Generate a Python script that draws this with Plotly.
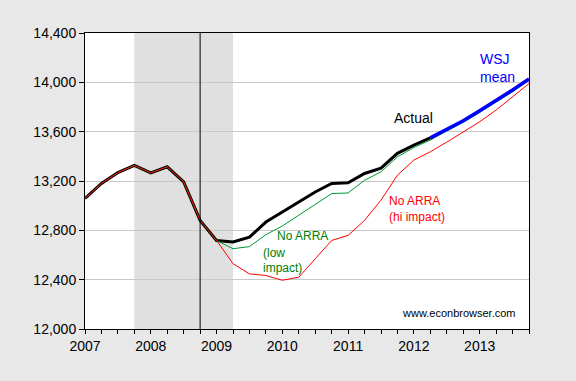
import plotly.graph_objects as go

# Quarterly dates 2007Q1 .. 2013Q4 (as decimal years)
quarters = [2007 + i * 0.25 for i in range(28)]

actual = [13058, 13180, 13268, 13326,
          13266, 13315, 13193, 12881,
          12718, 12705, 12745, 12867,
          12949, 13030, 13111, 13180,
          13185, 13261, 13305, 13424,
          13491, 13550]

wsj_mean = [13550, 13620, 13688, 13769, 13850, 13938, 14027]  # 2012Q2..2013Q4

no_arra_low = [13058, 13180, 13268, 13326,
               13266, 13315, 13193, 12881,
               12718, 12651, 12668, 12765,
               12835, 12924, 13011, 13098,
               13103, 13206, 13274, 13396,
               13472, 13532, 13605, 13675,
               13755, 13836, 13924, 14015]

no_arra_hi = [13058, 13180, 13268, 13326,
              13266, 13315, 13193, 12881,
              12718, 12530, 12447, 12434,
              12395, 12420, 12569, 12718,
              12759, 12881, 13045, 13247,
              13370, 13437, 13515, 13598,
              13680, 13775, 13880, 13990]

recession = (2007.75, 2009.25)
vline_x = 2008.75

y_ticks = [12000, 12400, 12800, 13200, 13600, 14000, 14400]
x_ticks = [2007, 2008, 2009, 2010, 2011, 2012, 2013]

FONT = "Liberation Sans, Arial, sans-serif"

fig = go.Figure()
fig.add_trace(go.Scatter(x=quarters[:len(actual)], y=actual, mode="lines",
                         line=dict(color="black", width=3), name="Actual"))
fig.add_trace(go.Scatter(x=quarters, y=no_arra_low, mode="lines",
                         line=dict(color="#009933", width=1), name="No ARRA (low)"))
fig.add_trace(go.Scatter(x=quarters, y=no_arra_hi, mode="lines",
                         line=dict(color="#FF0000", width=1), name="No ARRA (hi)"))
fig.add_trace(go.Scatter(x=quarters[len(actual) - 1:], y=wsj_mean, mode="lines",
                         line=dict(color="#0000FF", width=3.5), name="WSJ mean"))

fig.add_shape(type="rect", xref="x", yref="paper", x0=recession[0], x1=recession[1],
              y0=0, y1=1, fillcolor="#E0E0E0", line=dict(width=0), layer="below")
fig.add_shape(type="line", xref="x", yref="paper", x0=vline_x, x1=vline_x,
              y0=0, y1=1, line=dict(color="black", width=1))

def ann(text, x, y, color, size):
    fig.add_annotation(text=text, xref="paper", yref="paper", x=x, y=y,
                       xanchor="left", yanchor="middle", align="left",
                       showarrow=False, font=dict(family=FONT, size=size, color=color))

ann("WSJ<br>mean", 0.885, 0.8834, "#0000FF", 14)
ann("Actual", 0.692, 0.7128, "black", 14)
ann("No ARRA", 0.428, 0.3142, "#008000", 12)
ann("(low", 0.397, 0.2584, "#008000", 12)
ann("impact)", 0.397, 0.2061, "#008000", 12)
ann("No ARRA", 0.680, 0.4324, "#FF0000", 12)
ann("(hi impact)", 0.680, 0.3784, "#FF0000", 12)
ann("www.econbrowser.com", 0.709, 0.0557, "black", 11)

fig.update_layout(
    width=576, height=381,
    margin=dict(l=85, r=47, t=33, b=52),
    paper_bgcolor="#E8E8E8", plot_bgcolor="white",
    showlegend=False,
    font=dict(family=FONT, size=14, color="black"),
)
fig.update_xaxes(range=[2007, 2013.75], tickvals=x_ticks, ticktext=[str(v) for v in x_ticks],
                 showgrid=False, zeroline=False, showline=True, linecolor="black", linewidth=1,
                 mirror=True, ticks="outside", ticklen=4, tickcolor="black",
                 minor=dict(dtick=0.25, tick0=2007, ticks="outside", ticklen=4,
                            tickcolor="black", showgrid=False),
                 tickfont=dict(family=FONT, size=14))
fig.update_yaxes(range=[12000, 14400], tickvals=y_ticks,
                 ticktext=[f"{v:,}" for v in y_ticks],
                 showgrid=True, gridcolor="#C8C8C8", gridwidth=1, zeroline=False,
                 showline=True, linecolor="black", linewidth=1, mirror=True,
                 ticks="outside", ticklen=5, tickcolor="black",
                 tickfont=dict(family=FONT, size=14))

fig.write_html("out.html",
               config={"displayModeBar": False},
               post_script="document.body.style.margin='0';"
                           "document.body.style.padding='0';"
                           "document.body.style.background='#E8E8E8';"
                           "document.body.style.overflow='hidden';")
